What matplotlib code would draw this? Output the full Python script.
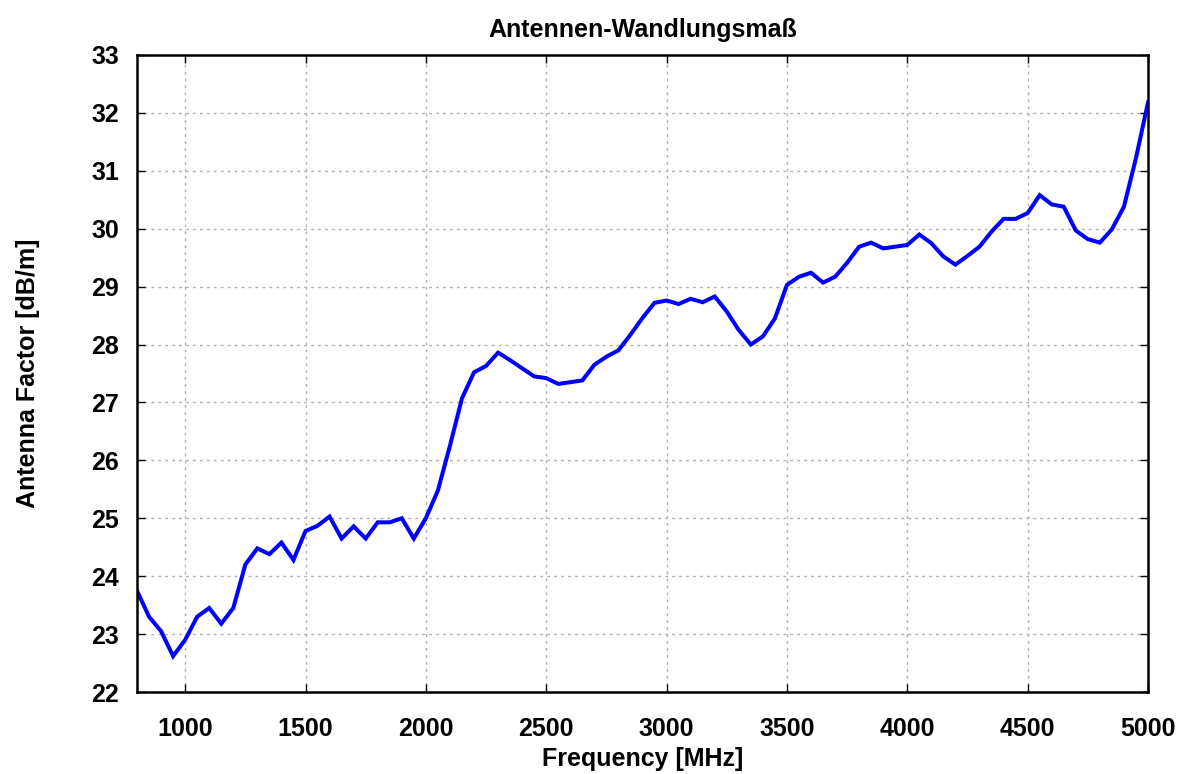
import matplotlib
matplotlib.use("Agg")
import matplotlib.pyplot as plt
import numpy as np

freq_mhz = list(range(800, 5001, 50))
antenna_factor = [
    23.75, 23.30, 23.05, 22.62, 22.90, 23.30, 23.45, 23.18, 23.45, 24.20,
    24.48, 24.38, 24.58, 24.28, 24.78, 24.87, 25.03, 24.65, 24.86, 24.65,
    24.93, 24.93, 25.00, 24.65, 25.00, 25.48, 26.25, 27.07, 27.52, 27.63,
    27.86, 27.73, 27.59, 27.45, 27.42, 27.32, 27.35, 27.38, 27.65, 27.79,
    27.90, 28.17, 28.46, 28.72, 28.76, 28.70, 28.79, 28.73, 28.83, 28.57,
    28.25, 28.00, 28.14, 28.45, 29.03, 29.17, 29.24, 29.07, 29.17, 29.41,
    29.69, 29.76, 29.66, 29.69, 29.72, 29.90, 29.75, 29.52, 29.38, 29.53,
    29.69, 29.95, 30.17, 30.17, 30.27, 30.58, 30.42, 30.38, 29.97, 29.82,
    29.76, 29.99, 30.38, 31.22, 32.18,
]
x_ticks = [1000, 1500, 2000, 2500, 3000, 3500, 4000, 4500, 5000]
y_ticks = list(range(22, 34))

plt.rcParams['font.family'] = ['Liberation Sans', 'DejaVu Sans']
plt.rcParams['font.weight'] = 'bold'

fig = plt.figure(figsize=(11.89, 7.74), dpi=100)
ax = fig.add_axes([137/1189, 1-692/774, (1148-137)/1189, (692-55)/774])

ax.plot(freq_mhz, antenna_factor, color='#0000ff', lw=2.9, solid_joinstyle='miter')

ax.set_xlim(800, 5000)
ax.set_ylim(22, 33)
ax.set_xticks(x_ticks)
ax.set_yticks(y_ticks)
ax.grid(True, linestyle=(0, (2, 3)), color='#b0b0b0', linewidth=1.0)
ax.tick_params(direction='in', length=6, width=1, top=True, right=True,
               labelsize=18)
ax.tick_params(axis='x', pad=18)
ax.tick_params(axis='y', pad=13)
for lab in ax.get_xticklabels() + ax.get_yticklabels():
    lab.set_fontweight('bold')
for s in ax.spines.values():
    s.set_linewidth(1.8)

ax.set_title('Antennen-Wandlungsmaß', fontsize=18, fontweight='bold', pad=13)
ax.set_xlabel('Frequency [MHz]', fontsize=18, fontweight='bold', labelpad=4)
ax.set_ylabel('Antenna Factor [dB/m]', fontsize=18, fontweight='bold', labelpad=37)

fig.savefig('out.png', dpi=100)
